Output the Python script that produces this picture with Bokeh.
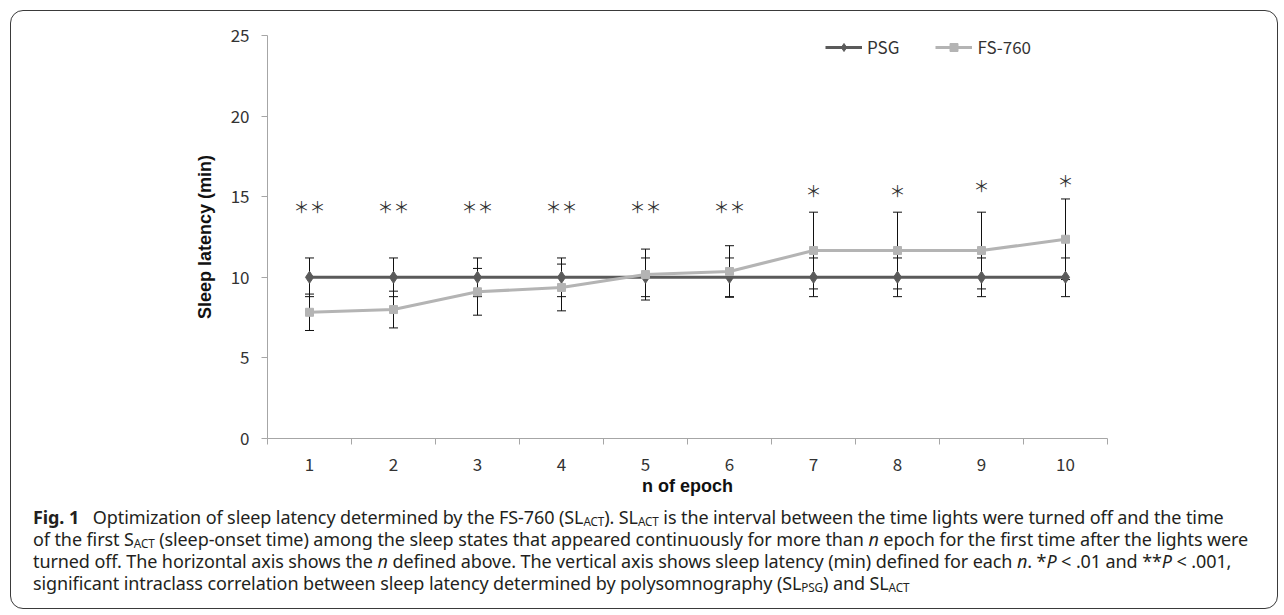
from bokeh.plotting import figure
from bokeh.models import Range1d, FixedTicker, Legend, LegendItem, Div, ColumnDataSource
from bokeh.layouts import column
from bokeh.embed import file_html
from bokeh.resources import INLINE
from bokeh.core.properties import value

# ---- data ----
epochs = [1, 2, 3, 4, 5, 6, 7, 8, 9, 10]
psg_mean = [10, 10, 10, 10, 10, 10, 10, 10, 10, 10]
psg_err = [1.2, 1.2, 1.2, 1.2, 1.2, 1.2, 1.2, 1.2, 1.2, 1.2]
fs_mean = [7.83, 8.0, 9.1, 9.37, 10.17, 10.36, 11.66, 11.66, 11.66, 12.36]
fs_err = [1.13, 1.14, 1.45, 1.45, 1.58, 1.6, 2.38, 2.38, 2.38, 2.5]
sig_labels = ["＊＊", "＊＊", "＊＊", "＊＊", "＊＊", "＊＊", "＊", "＊", "＊", "＊"]
sig_y = [14.45, 14.45, 14.45, 14.45, 14.45, 14.45, 15.4, 15.4, 15.7, 16.05]
y_ticks = [0, 5, 10, 15, 20, 25]
x_minor = [0.5, 1.5, 2.5, 3.5, 4.5, 5.5, 6.5, 7.5, 8.5, 9.5, 10.5]

src = ColumnDataSource(dict(
    x=epochs,
    psg=psg_mean,
    psg_up=[m + e for m, e in zip(psg_mean, psg_err)],
    psg_lo=[m - e for m, e in zip(psg_mean, psg_err)],
    fs=fs_mean,
    fs_up=[m + e for m, e in zip(fs_mean, fs_err)],
    fs_lo=[m - e for m, e in zip(fs_mean, fs_err)],
    sig=sig_labels,
    sig_y=sig_y,
))

PSG_C = "#5a5a5a"
FS_C = "#b4b4b4"
AX_C = "#a6a6a6"
TICK_FONT = "Noto Sans CJK JP"

p = figure(x_range=Range1d(0.5, 10.5), y_range=Range1d(0, 25),
           frame_width=840, frame_height=403,
           min_border_left=256, min_border_right=160,
           min_border_top=24, min_border_bottom=62,
           output_backend="svg", toolbar_location=None)
p.outline_line_color = None
p.xgrid.visible = False
p.ygrid.visible = False
p.background_fill_color = None
p.border_fill_color = None

# axes
p.yaxis.ticker = FixedTicker(ticks=y_ticks)
p.xaxis.ticker = FixedTicker(ticks=epochs, minor_ticks=x_minor)
for ax in (p.xaxis[0], p.yaxis[0]):
    ax.axis_line_color = AX_C
    ax.major_tick_line_color = AX_C
    ax.minor_tick_line_color = AX_C
    ax.major_label_text_font = TICK_FONT
    ax.major_label_text_font_size = "17px"
    ax.major_label_text_color = "#333333"
    ax.axis_label_text_font = "Liberation Sans"
    ax.axis_label_text_font_style = "bold"
    ax.axis_label_text_font_size = "18px"
    ax.axis_label_text_color = "#111111"
p.yaxis.major_tick_out = 6
p.yaxis.major_tick_in = 0
p.yaxis.minor_tick_out = 0
p.yaxis.minor_tick_in = 0
p.yaxis.major_label_standoff = 12
p.yaxis.axis_label = "Sleep latency (min)"
p.yaxis.axis_label_standoff = 13
p.xaxis.major_tick_out = 0
p.xaxis.major_tick_in = 0
p.xaxis.minor_tick_out = 6
p.xaxis.minor_tick_in = 0
p.xaxis.major_label_standoff = 13
p.xaxis.axis_label = "n of epoch"
p.xaxis.axis_label_standoff = 2

# lines
psg_line = p.line("x", "psg", source=src, line_color=PSG_C, line_width=3)
fs_line = p.line("x", "fs", source=src, line_color=FS_C, line_width=3)

# error bars
p.segment(x0="x", y0="psg_lo", x1="x", y1="psg_up", source=src, line_color="#111111", line_width=1)
p.segment(x0="x", y0="fs_lo", x1="x", y1="fs_up", source=src, line_color="#111111", line_width=1)
for col in ("psg_up", "psg_lo", "fs_up", "fs_lo"):
    p.scatter("x", col, source=src, marker="dash", size=9, line_color="#111111", line_width=1)

# markers
psg_mark = p.scatter("x", "psg", source=src, marker="diamond", size=12,
                     fill_color=PSG_C, line_color=PSG_C)
fs_mark = p.scatter("x", "fs", source=src, marker="square", size=8,
                    fill_color=FS_C, line_color=FS_C)

# significance marks
p.text("x", "sig_y", text="sig", source=src, text_align="center", text_baseline="middle",
       text_font=value("Noto Sans CJK JP"), text_font_size="16px", text_color="#333333")

legend = Legend(items=[LegendItem(label="PSG", renderers=[psg_line, psg_mark]),
                       LegendItem(label="FS-760", renderers=[fs_line, fs_mark])],
                orientation="horizontal", location=(558, 379))
legend.label_text_font = TICK_FONT
legend.label_text_font_size = "17px"
legend.label_text_color = "#333333"
legend.glyph_width = 37
legend.glyph_height = 20
legend.label_standoff = 5
legend.spacing = 36
legend.padding = 0
legend.margin = 0
legend.border_line_color = None
legend.background_fill_alpha = 0
p.add_layout(legend)

SUB = '<sub style="font-size:65%; line-height:0; vertical-align:-0.15em;">'
caption_html = (
    '<div style="font-family: \'Noto Sans\', sans-serif; font-size: 18px; line-height: 22px; '
    'color: #231f20; white-space: nowrap; padding: 1px 0 0 17px; letter-spacing: -0.1px;">'
    '<b>Fig. 1</b>&nbsp;&nbsp; Optimization of sleep latency determined by the FS-760 (SL' + SUB + 'ACT</sub>). '
    'SL' + SUB + 'ACT</sub> is the interval between the time lights were turned off and the time<br>'
    'of the first S' + SUB + 'ACT</sub> (sleep-onset time) among the sleep states that appeared continuously '
    'for more than <i>n</i> epoch for the first time after the lights were<br>'
    'turned off. The horizontal axis shows the <i>n</i> defined above. The vertical axis shows sleep '
    'latency (min) defined for each <i>n</i>. *<i>P</i> &lt; .01 and **<i>P</i> &lt; .001,<br>'
    'significant intraclass correlation between sleep latency determined by polysomnography '
    '(SL' + SUB + 'PSG</sub>) and SL' + SUB + 'ACT</sub>'
    '</div>'
)
cap = Div(text=caption_html, width=1256, height=98)

layout = column(p, cap, styles={"border": "1px solid #3a3a3a", "border-radius": "13px",
                                "margin": "10px 0 0 10px"})

open("out.html", "w").write(file_html(layout, INLINE))
